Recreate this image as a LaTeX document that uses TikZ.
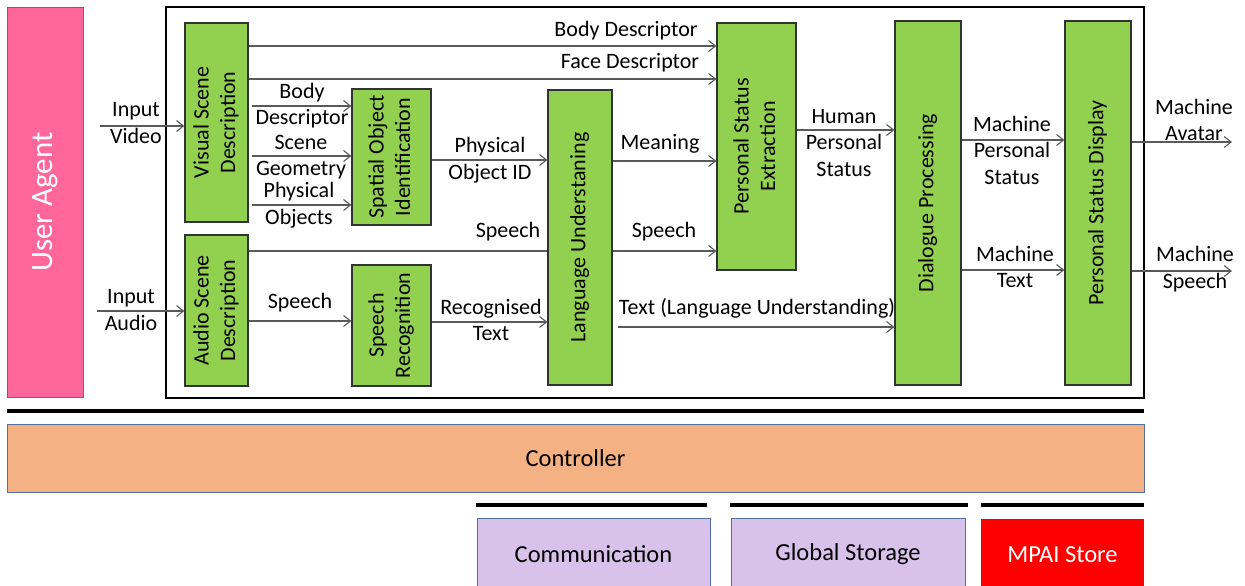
\documentclass[tikz,border=0pt]{standalone}
\usepackage{fontspec}
\setmainfont{Carlito}
\usetikzlibrary{arrows.meta}
\definecolor{modgreen}{RGB}{146,208,80}
\definecolor{agentpink}{RGB}{255,102,153}
\definecolor{ctrlorange}{RGB}{244,177,131}
\definecolor{svclilac}{RGB}{216,193,234}
\definecolor{edgeblue}{RGB}{80,110,160}
\definecolor{wiregray}{RGB}{89,89,89}
\definecolor{frame}{RGB}{50,50,50}
\newcommand\uprot[1]{\rotatebox{90}{\begin{tabular}{@{}c@{}}#1\end{tabular}}}
\tikzset{
  module/.style={draw=frame, fill=modgreen, line width=1.2pt, inner sep=0pt},
  wire/.style={draw=wiregray, line width=1.1pt},
  flow/.style={wire, -{Straight Barb[length=7pt,width=11pt,line width=1.1pt]}},
  lbl/.style={inner sep=0pt, align=center, text=black},
  bar/.style={draw=black, line width=3.5pt},
  service/.style={draw=edgeblue, line width=0.8pt, inner sep=0pt, font=\fontsize{24.5}{28}\selectfont},
}
\begin{document}
\begin{tikzpicture}[x=1pt, y=-1pt, font=\fontsize{22}{26.5}\selectfont]
\clip (0,0) rectangle (1245,586);
\useasboundingbox (0,0) rectangle (1245,586);

% user agent and enclosing frame
\node[draw=edgeblue, fill=agentpink, line width=0.8pt, minimum width=76, minimum height=390, inner sep=0pt,
      text=white, font=\fontsize{31}{36}\selectfont] (ua) at (45,202) {\rotatebox{90}{User Agent}};
\node[draw=black, line width=1.3pt, minimum width=978, minimum height=391, inner sep=0pt] (main) at (655,202.5) {};

% processing modules
\node[module, minimum width=63, minimum height=199] (vsd) at (216.5,122.5) {\uprot{Visual Scene\\Description}};
\node[module, minimum width=63, minimum height=151] (asd) at (216.5,310.5) {\uprot{Audio Scene\\Description}};
\node[module, minimum width=79, minimum height=136] (soi) at (391.5,157) {\uprot{Spatial Object\\Identification}};
\node[module, minimum width=79, minimum height=121] (sr) at (391.5,325.5) {\uprot{Speech\\Recognition}};
\node[module, minimum width=64, minimum height=295] (lu) at (580,237.5) {\uprot{Language Understaning}};
\node[module, minimum width=79, minimum height=247] (pse) at (756.5,146.5) {\uprot{Personal Status\\Extraction}};
\node[module, minimum width=66, minimum height=364] (dp) at (928,203) {\uprot{Dialogue Processing}};
\node[module, minimum width=66, minimum height=364] (psd) at (1098,203) {\uprot{Personal Status Display}};

% free ends of the external inputs and outputs
\coordinate (iv) at (100,126);
\coordinate (ia) at (97,311);
\coordinate (ma) at (1232,142);
\coordinate (ms) at (1232,271);

% data flows
\draw[flow] (iv) -- (vsd.west |- iv);
\draw[flow] (ia) -- (asd.west |- ia);
\draw[flow] (vsd.east |- 0,46) -- (pse.west |- 0,46);
\draw[flow] (vsd.east |- 0,79) -- (pse.west |- 0,79);
\draw[flow] ([xshift=3pt]vsd.east |- 0,106) -- (soi.west |- 0,106);
\draw[flow] ([xshift=3pt]vsd.east |- 0,156) -- (soi.west |- 0,156);
\draw[flow] ([xshift=3pt]vsd.east |- 0,205) -- (soi.west |- 0,205);
\draw[flow] (soi.east |- 0,160) -- (lu.west |- 0,160);
\draw[wire] (asd.east |- 0,251) -- (lu.west |- 0,251);
\draw[flow] (lu.east |- 0,251) -- (pse.west |- 0,251);
\draw[flow] (asd.east |- 0,321) -- (sr.west |- 0,321);
\draw[flow] (sr.east |- 0,322) -- (lu.west |- 0,322);
\draw[flow] (lu.east |- 0,161) -- (pse.west |- 0,161);
\draw[flow] ([xshift=5pt]lu.east |- 0,327) -- (dp.west |- 0,327);
\draw[flow] (pse.east |- 0,130) -- (dp.west |- 0,130);
\draw[flow] (dp.east |- 0,140) -- (psd.west |- 0,140);
\draw[flow] (dp.east |- 0,270) -- (psd.west |- 0,270);
\draw[flow] (psd.east |- ma) -- (ma);
\draw[flow] (psd.east |- ms) -- (ms);

% flow labels
\node[lbl] (l-iv) at (136,123) {Input\\Video};
\node[lbl] (l-ia) at (131,310) {Input\\Audio};
\node[lbl] (l-bd1) at (626,31) {Body Descriptor};
\node[lbl] (l-fd) at (630,63) {Face Descriptor};
\node[lbl] (l-bd2) at (302,105.5) {Body\\Descriptor};
\node[lbl] (l-sg) at (301,157) {Scene\\Geometry};
\node[lbl] (l-po) at (299,205) {Physical\\Objects};
\node[lbl] (l-pid) at (490,160) {Physical\\Object ID};
\node[lbl] (l-sp1) at (508,232) {Speech};
\node[lbl] (l-sp2) at (664,232) {Speech};
\node[lbl] (l-sp3) at (300,303) {Speech};
\node[lbl] (l-rt) at (491,320) {Recognised\\Text};
\node[lbl] (l-mn) at (660,144) {Meaning};
\node[lbl] (l-tlu) at (757,308) {Text (Language Understanding)};
\node[lbl] (l-hps) at (844,143) {Human\\Personal\\Status};
\node[lbl] (l-mps) at (1012,150) {Machine\\Personal\\Status};
\node[lbl] (l-mt) at (1015,267) {Machine\\Text};
\node[lbl] (l-ma) at (1194,120) {Machine\\Avatar};
\node[lbl] (l-ms) at (1195,269) {Machine\\Speech};

% controller layer
\draw[bar] (7,411) -- (1144,411);
\node[service, fill=ctrlorange, minimum width=1137, minimum height=68] (ctrl) at (575.5,458) {Controller};

% services below the controller
\draw[bar] (476,505) -- (707,505);
\draw[bar] (730,505) -- (968,505);
\draw[bar] (981,505) -- (1144,505);
\node[service, fill=svclilac, minimum width=233, minimum height=72] (comm) at (593.5,554) {Communication};
\node[service, fill=svclilac, minimum width=234, minimum height=72] (gs) at (848,554) {Global Storage};
\node[service, draw=none, fill=red, text=white, minimum width=163, minimum height=72] (store) at (1062.5,555) {MPAI Store};
\end{tikzpicture}
\end{document}
